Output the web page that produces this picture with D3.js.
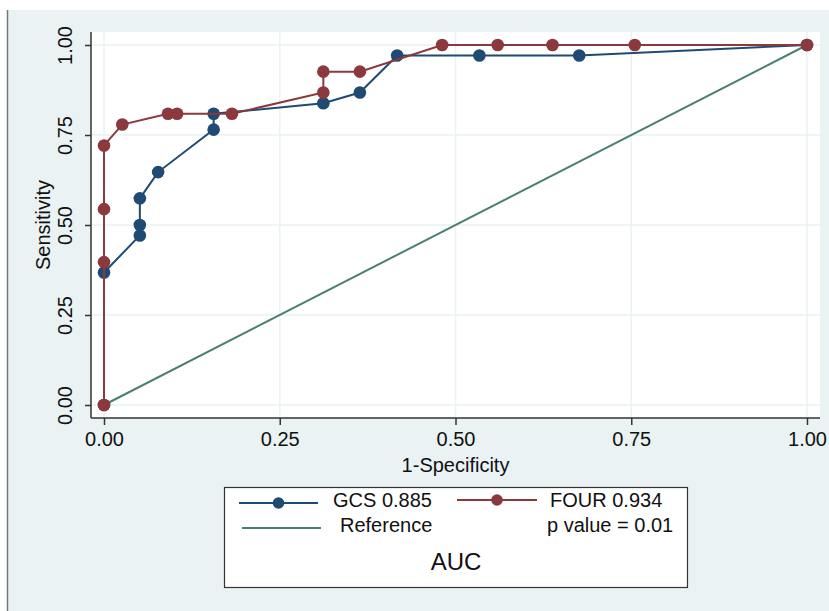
<!DOCTYPE html>
<html>
<head>
<meta charset="utf-8">
<script src="https://cdn.jsdelivr.net/npm/d3@7"></script>
<style>
  body { margin: 0; background: #fff; }
  text { font-family: "Liberation Sans", Arial, Helvetica, sans-serif; fill: #111; }
</style>
</head>
<body>
<div id="chart"></div>
<script>
// ROC curves
const gcsFpr  = [0, 0, 0.051, 0.051, 0.051, 0.077, 0.156, 0.156, 0.312, 0.364, 0.417, 0.534, 0.676, 1];
const gcsSens = [0, 0.368, 0.471, 0.5, 0.574, 0.647, 0.765, 0.809, 0.838, 0.868, 0.971, 0.971, 0.971, 1];

const fourFpr  = [0, 0, 0, 0, 0.026, 0.091, 0.104, 0.182, 0.312, 0.312, 0.364, 0.481, 0.560, 0.638, 0.755, 1];
const fourSens = [0, 0.397, 0.544, 0.721, 0.779, 0.809, 0.809, 0.809, 0.868, 0.926, 0.926, 1, 1, 1, 1, 1];

const refFpr  = [0, 1];
const refSens = [0, 1];

const ticks = [0, 0.25, 0.5, 0.75, 1];
const legendLabels = ["GCS 0.885", "FOUR 0.934", "Reference", "p value = 0.01"];
const legendTitle = "AUC";

const colors = {gcs: "#1f4a72", four: "#8c393d", ref: "#4a7f72"};

const W = 829, H = 611;
const svg = d3.select("#chart").append("svg")
  .attr("width", W)
  .attr("height", H);

// outer graph region
svg.append("rect")
  .attr("x", 7).attr("y", 10)
  .attr("width", W - 7).attr("height", H - 10)
  .attr("fill", "#eaf2f3");
svg.append("line")
  .attr("x1", 7.5).attr("x2", 7.5)
  .attr("y1", 10).attr("y2", H)
  .attr("stroke", "#777").attr("stroke-width", 1.5);

// plot region
const plot = {left: 91, top: 32, right: 820, bottom: 418};
svg.append("rect")
  .attr("x", plot.left).attr("y", plot.top)
  .attr("width", plot.right - plot.left).attr("height", plot.bottom - plot.top)
  .attr("fill", "#fff");

const x = d3.scaleLinear().domain([0, 1]).range([104, 807]);
const y = d3.scaleLinear().domain([0, 1]).range([405, 45]);

// grid
svg.append("g").selectAll("line")
  .data(ticks).join("line")
  .attr("x1", d => x(d)).attr("x2", d => x(d))
  .attr("y1", plot.top).attr("y2", plot.bottom)
  .attr("stroke", "#eaf2f3").attr("stroke-width", 1.5);
svg.append("g").selectAll("line")
  .data(ticks).join("line")
  .attr("x1", plot.left).attr("x2", plot.right)
  .attr("y1", d => y(d)).attr("y2", d => y(d))
  .attr("stroke", "#eaf2f3").attr("stroke-width", 1.5);

// axes
const xAxis = svg.append("g")
  .attr("transform", `translate(0,${plot.bottom})`)
  .call(d3.axisBottom(x).tickValues(ticks).tickFormat(d3.format(".2f")).tickSize(7).tickSizeOuter(0));
xAxis.select(".domain").attr("d", `M${plot.left},0H${plot.right}`);
xAxis.selectAll("text").attr("dy", "0.71em").attr("y", 14).style("font-size", "20px");

const yAxis = svg.append("g")
  .attr("transform", `translate(${plot.left},0)`)
  .call(d3.axisLeft(y).tickValues(ticks).tickFormat(d3.format(".2f")).tickSize(6).tickSizeOuter(0));
yAxis.select(".domain").attr("d", `M0,${plot.top}V${plot.bottom}`);
yAxis.selectAll("text")
  .attr("x", null).attr("dy", null)
  .attr("text-anchor", "middle")
  .attr("transform", "translate(-19,0) rotate(-90)")
  .style("font-size", "20px");

svg.selectAll(".domain, .tick line").attr("stroke", "#333").attr("stroke-width", 1.5);

svg.append("text")
  .attr("x", x(0.5)).attr("y", 472)
  .attr("text-anchor", "middle")
  .style("font-size", "20px")
  .text("1-Specificity");

svg.append("text")
  .attr("transform", `translate(50,${y(0.5)}) rotate(-90)`)
  .attr("text-anchor", "middle")
  .style("font-size", "20px")
  .text("Sensitivity");

// curves
const line = d3.line().x(d => x(d[0])).y(d => y(d[1]));

const refPts = d3.zip(refFpr, refSens);
const gcsPts = d3.zip(gcsFpr, gcsSens);
const fourPts = d3.zip(fourFpr, fourSens);

svg.append("path").datum(refPts)
  .attr("d", line).attr("fill", "none")
  .attr("stroke", colors.ref).attr("stroke-width", 2);

function curve(pts, color) {
  svg.append("path").datum(pts)
    .attr("d", line).attr("fill", "none")
    .attr("stroke", color).attr("stroke-width", 2);
  svg.append("g").selectAll("circle")
    .data(pts).join("circle")
    .attr("cx", d => x(d[0])).attr("cy", d => y(d[1]))
    .attr("r", 6.3)
    .attr("fill", color);
}
curve(gcsPts, colors.gcs);
curve(fourPts, colors.four);

// legend
const lg = svg.append("g");
lg.append("rect")
  .attr("x", 224.5).attr("y", 487.5)
  .attr("width", 463).attr("height", 100)
  .attr("fill", "#fff").attr("stroke", "#333").attr("stroke-width", 1.2);

function key(x1, x2, yy, color, marker) {
  lg.append("line")
    .attr("x1", x1).attr("x2", x2).attr("y1", yy).attr("y2", yy)
    .attr("stroke", color).attr("stroke-width", 2);
  if (marker) {
    lg.append("circle")
      .attr("cx", (x1 + x2) / 2).attr("cy", yy).attr("r", 5.8)
      .attr("fill", color);
  }
}
key(239, 318, 503, colors.gcs, true);
key(457, 537, 500, colors.four, true);
key(242, 321, 528, colors.ref, false);

lg.append("text").attr("x", 333).attr("y", 507).style("font-size", "20px").text(legendLabels[0]);
lg.append("text").attr("x", 550).attr("y", 507).style("font-size", "20px").text(legendLabels[1]);
lg.append("text").attr("x", 340).attr("y", 532).style("font-size", "20px").text(legendLabels[2]);
lg.append("text").attr("x", 547).attr("y", 532).style("font-size", "20px").text(legendLabels[3]);
lg.append("text").attr("x", 456).attr("y", 570)
  .attr("text-anchor", "middle")
  .style("font-size", "24px")
  .text(legendTitle);
</script>
</body>
</html>
